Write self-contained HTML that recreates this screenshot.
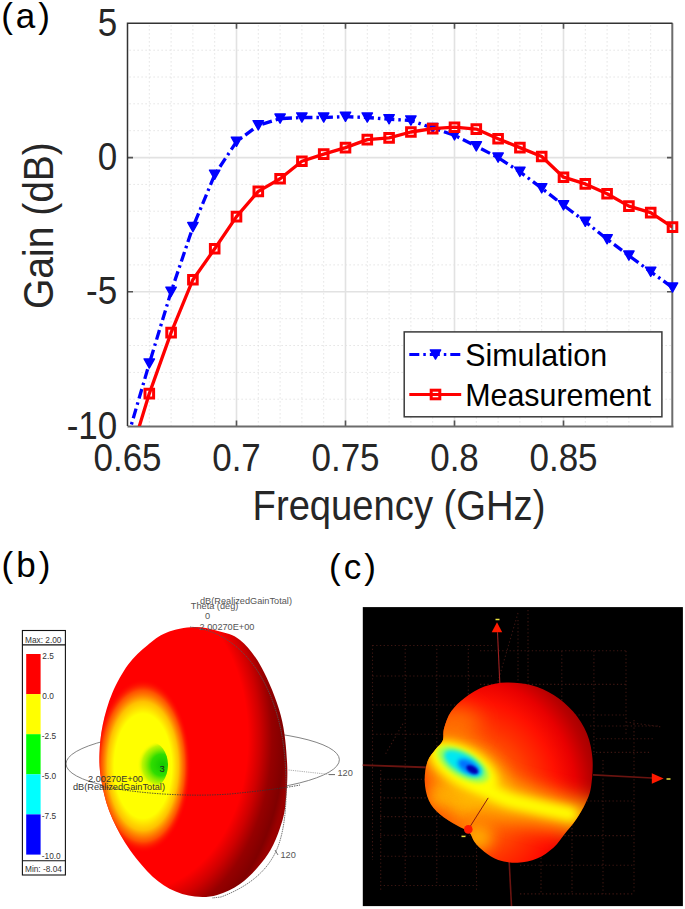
<!DOCTYPE html><html><head><meta charset="utf-8"><style>html,body{margin:0;padding:0;background:#fff;}body{width:685px;height:909px;overflow:hidden;}svg{display:block;}text{font-family:"Liberation Sans",sans-serif;}</style></head><body>
<svg width="685" height="909" viewBox="0 0 685 909">
<defs><clipPath id="ax"><rect x="127.5" y="23.3" width="545.0" height="402.8"/></clipPath>
<filter id="blur1" filterUnits="userSpaceOnUse" x="0" y="0" width="685" height="909"><feGaussianBlur stdDeviation="1.2"/></filter>
<filter id="blur2" filterUnits="userSpaceOnUse" x="0" y="0" width="685" height="909"><feGaussianBlur stdDeviation="2"/></filter>
<filter id="blur4" filterUnits="userSpaceOnUse" x="0" y="0" width="685" height="909"><feGaussianBlur stdDeviation="4"/></filter>
<filter id="blur7" filterUnits="userSpaceOnUse" x="0" y="0" width="685" height="909"><feGaussianBlur stdDeviation="7"/></filter>
<filter id="blur10" filterUnits="userSpaceOnUse" x="0" y="0" width="685" height="909"><feGaussianBlur stdDeviation="10"/></filter>
</defs>
<path d="M149.3 25.3V426.1M171.1 25.3V426.1M192.9 25.3V426.1M214.7 25.3V426.1M258.3 25.3V426.1M280.1 25.3V426.1M301.9 25.3V426.1M323.7 25.3V426.1M367.3 25.3V426.1M389.1 25.3V426.1M410.9 25.3V426.1M432.7 25.3V426.1M476.3 25.3V426.1M498.1 25.3V426.1M519.9 25.3V426.1M541.7 25.3V426.1M585.3 25.3V426.1M607.1 25.3V426.1M628.9 25.3V426.1M650.7 25.3V426.1M129.5 399.2H672.5M129.5 372.4H672.5M129.5 345.5H672.5M129.5 318.7H672.5M129.5 264.9H672.5M129.5 238.1H672.5M129.5 211.2H672.5M129.5 184.4H672.5M129.5 130.7H672.5M129.5 103.8H672.5M129.5 77.0H672.5M129.5 50.2H672.5" stroke="#dcdcdc" stroke-width="1" stroke-dasharray="1.2 2.8" fill="none"/>
<path d="M236.5 23.3V426.1M345.5 23.3V426.1M454.5 23.3V426.1M563.5 23.3V426.1M127.5 157.6H672.5M127.5 291.8H672.5" stroke="#e2e2e2" stroke-width="1.6" fill="none"/>
<path d="M236.5 23.3v5.5M236.5 426.1v-5.5M345.5 23.3v5.5M345.5 426.1v-5.5M454.5 23.3v5.5M454.5 426.1v-5.5M563.5 23.3v5.5M563.5 426.1v-5.5M127.5 157.6h5.5M672.5 157.6h-5.5M127.5 291.8h5.5M672.5 291.8h-5.5" stroke="#555" stroke-width="1.6" fill="none"/>
<path d="M127.5 426.4H673.5M672.3 23.3V427.2" stroke="#6c6c6c" stroke-width="2" fill="none"/>
<path d="M127.5 426.1V22.6M126.8 23.3H672.5" stroke="#333" stroke-width="1.5" fill="none"/>
<g clip-path="url(#ax)">
<polyline points="127.5,437.9 149.3,363.5 171.1,291.8 192.9,227.1 214.7,174.7 236.5,141.7 258.3,125.3 280.1,118.6 301.9,117.5 323.7,117.5 345.5,116.7 367.3,117.5 389.1,119.2 410.9,120.5 432.7,128.0 454.5,135.3 476.3,146.3 498.1,157.6 519.9,171.8 541.7,188.2 563.5,205.3 585.3,221.7 607.1,239.2 628.9,255.6 650.7,271.7 672.5,287.5" fill="none" stroke="#0000ff" stroke-width="3.3" stroke-dasharray="10 4 2.5 4"/>
</g>
<path d="M144.1 358.9h10.4l-5.2 9.2zM165.9 287.2h10.4l-5.2 9.2zM187.7 222.5h10.4l-5.2 9.2zM209.5 170.1h10.4l-5.2 9.2zM231.3 137.1h10.4l-5.2 9.2zM253.1 120.7h10.4l-5.2 9.2zM274.9 114.0h10.4l-5.2 9.2zM296.7 112.9h10.4l-5.2 9.2zM318.5 112.9h10.4l-5.2 9.2zM340.3 112.1h10.4l-5.2 9.2zM362.1 112.9h10.4l-5.2 9.2zM383.9 114.6h10.4l-5.2 9.2zM405.7 115.9h10.4l-5.2 9.2zM427.5 123.4h10.4l-5.2 9.2zM449.3 130.7h10.4l-5.2 9.2zM471.1 141.7h10.4l-5.2 9.2zM492.9 153.0h10.4l-5.2 9.2zM514.7 167.2h10.4l-5.2 9.2zM536.5 183.6h10.4l-5.2 9.2zM558.3 200.7h10.4l-5.2 9.2zM580.1 217.1h10.4l-5.2 9.2zM601.9 234.6h10.4l-5.2 9.2zM623.7 251.0h10.4l-5.2 9.2zM645.5 267.1h10.4l-5.2 9.2zM667.3 282.9h10.4l-5.2 9.2z" fill="#0000ff" stroke="#0000ff" stroke-width="1.4" stroke-linejoin="round"/>
<g clip-path="url(#ax)">
<polyline points="127.5,465.0 149.3,393.6 171.1,332.6 192.9,279.7 214.7,248.8 236.5,216.6 258.3,191.4 280.1,178.8 301.9,161.3 323.7,154.1 345.5,147.6 367.3,139.6 389.1,137.9 410.9,132.0 432.7,128.6 454.5,127.2 476.3,129.1 498.1,138.8 519.9,147.6 541.7,156.5 563.5,177.2 585.3,183.9 607.1,193.8 628.9,206.1 650.7,212.6 672.5,227.1" fill="none" stroke="#ff0000" stroke-width="3.3" stroke-linejoin="round"/>
</g>
<path d="M145.0 389.3h8.6v8.6h-8.6zM166.8 328.3h8.6v8.6h-8.6zM188.6 275.4h8.6v8.6h-8.6zM210.4 244.5h8.6v8.6h-8.6zM232.2 212.3h8.6v8.6h-8.6zM254.0 187.1h8.6v8.6h-8.6zM275.8 174.5h8.6v8.6h-8.6zM297.6 157.0h8.6v8.6h-8.6zM319.4 149.8h8.6v8.6h-8.6zM341.2 143.3h8.6v8.6h-8.6zM363.0 135.3h8.6v8.6h-8.6zM384.8 133.6h8.6v8.6h-8.6zM406.6 127.7h8.6v8.6h-8.6zM428.4 124.3h8.6v8.6h-8.6zM450.2 122.9h8.6v8.6h-8.6zM472.0 124.8h8.6v8.6h-8.6zM493.8 134.5h8.6v8.6h-8.6zM515.6 143.3h8.6v8.6h-8.6zM537.4 152.2h8.6v8.6h-8.6zM559.2 172.9h8.6v8.6h-8.6zM581.0 179.6h8.6v8.6h-8.6zM602.8 189.5h8.6v8.6h-8.6zM624.6 201.8h8.6v8.6h-8.6zM646.4 208.3h8.6v8.6h-8.6zM668.2 222.8h8.6v8.6h-8.6z" fill="none" stroke="#ff0000" stroke-width="3"/>
<rect x="404.2" y="331.9" width="257.7" height="84.9" fill="#fff" stroke="#3a3a3a" stroke-width="1.5"/>
<path d="M409.3 354.5H461.2" stroke="#0000ff" stroke-width="3.2" stroke-dasharray="10 4 2.5 4"/>
<path d="M430.3 349.9h10.4l-5.2 9.2z" fill="#0000ff" stroke="#0000ff" stroke-width="1.4" stroke-linejoin="round"/>
<path d="M409.3 394.5H461.2" stroke="#ff0000" stroke-width="3.2"/>
<rect x="431.2" y="390.2" width="8.6" height="8.6" fill="none" stroke="#ff0000" stroke-width="3"/>
<text transform="translate(465.20 365.60) scale(1 1.030)" font-size="30.40" fill="#000">Simulation</text>
<text transform="translate(465.20 406.10) scale(1 1.030)" font-size="30.40" fill="#000">Measurement</text>
<text transform="translate(127.50 471.00) scale(1 1.090)" font-size="35.00" fill="#262626" text-anchor="middle">0.65</text>
<text transform="translate(236.50 471.00) scale(1 1.090)" font-size="35.00" fill="#262626" text-anchor="middle">0.7</text>
<text transform="translate(345.50 471.00) scale(1 1.090)" font-size="35.00" fill="#262626" text-anchor="middle">0.75</text>
<text transform="translate(454.50 471.00) scale(1 1.090)" font-size="35.00" fill="#262626" text-anchor="middle">0.8</text>
<text transform="translate(563.50 471.00) scale(1 1.090)" font-size="35.00" fill="#262626" text-anchor="middle">0.85</text>
<text transform="translate(117.20 35.90) scale(1 1.090)" font-size="35.00" fill="#262626" text-anchor="end">5</text>
<text transform="translate(117.20 170.15) scale(1 1.090)" font-size="35.00" fill="#262626" text-anchor="end">0</text>
<text transform="translate(117.20 304.40) scale(1 1.090)" font-size="35.00" fill="#262626" text-anchor="end">-5</text>
<text transform="translate(117.20 438.65) scale(1 1.090)" font-size="35.00" fill="#262626" text-anchor="end">-10</text>
<text transform="translate(399.00 519.50) scale(1 1.100)" font-size="38.20" fill="#262626" text-anchor="middle">Frequency (GHz)</text>
<text transform="translate(52.5 225.6) rotate(-90) scale(1 1.08)" text-anchor="middle" font-size="39" fill="#262626">Gain (dB)</text>
<text transform="translate(1.20 28.00) scale(1 1.000)" font-size="35.00" fill="#000" letter-spacing="3.0">(a)</text>
<text transform="translate(1.60 577.00) scale(1 1.000)" font-size="35.00" fill="#000" letter-spacing="3.0">(b)</text>
<text transform="translate(329.00 578.50) scale(1 1.000)" font-size="35.00" fill="#000" letter-spacing="3.0">(c)</text>
<defs>
<radialGradient id="bshade" cx="140" cy="738" r="150" gradientUnits="userSpaceOnUse" gradientTransform="translate(140 738) scale(1 1.4) translate(-140 -738)">
<stop offset="0" stop-color="#ff0000"/><stop offset="0.72" stop-color="#ff0000"/><stop offset="0.8" stop-color="#d00000"/><stop offset="0.88" stop-color="#960000"/><stop offset="0.96" stop-color="#800000"/><stop offset="1" stop-color="#9a0000"/></radialGradient>
<radialGradient id="byel" cx="143" cy="766" r="60" gradientUnits="userSpaceOnUse" gradientTransform="translate(143 766) scale(0.8 1.45) translate(-143 -766)">
<stop offset="0" stop-color="#ffff00"/><stop offset="0.6" stop-color="#ffff00"/><stop offset="0.74" stop-color="#ffc000"/><stop offset="0.87" stop-color="#ff6000" stop-opacity="0.85"/><stop offset="1" stop-color="#ff0000" stop-opacity="0"/></radialGradient>
<clipPath id="gclip"><ellipse cx="151" cy="765" rx="17" ry="23"/></clipPath><radialGradient id="bgrn" cx="160" cy="765" fx="163" fy="765" r="24" gradientUnits="userSpaceOnUse" gradientTransform="translate(160 765) scale(0.95 1.0) translate(-160 -765)">
<stop offset="0" stop-color="#10c800"/><stop offset="0.45" stop-color="#30dd00"/><stop offset="0.8" stop-color="#a0f000" stop-opacity="0.7"/><stop offset="1" stop-color="#ffff00" stop-opacity="0"/></radialGradient>
<clipPath id="bclip"><path d="M194.0 627.0C202.6 626.7 210.3 628.8 218.0 631.0C225.7 633.2 232.7 633.9 240.0 640.0C247.3 646.1 254.9 655.1 261.7 667.7C268.5 680.3 276.6 699.5 280.8 715.4C285.0 731.3 286.3 748.2 287.1 763.0C287.9 777.8 286.7 793.6 285.5 804.4C284.3 815.2 282.5 820.4 280.0 828.0C277.5 835.6 274.2 843.5 270.5 850.0C266.8 856.5 263.1 861.3 258.0 867.0C252.9 872.7 246.8 879.3 240.0 884.0C233.2 888.7 224.7 892.9 217.2 895.0C209.7 897.1 202.8 897.6 194.9 896.6C187.0 895.6 177.4 892.9 169.5 888.7C161.6 884.5 154.6 878.9 147.2 871.2C139.8 863.5 131.3 852.7 125.0 842.6C118.7 832.5 113.1 821.4 109.1 810.8C105.1 800.2 102.7 788.5 101.1 779.0C99.5 769.5 99.2 762.5 99.5 753.5C99.8 744.5 100.6 735.1 102.7 725.0C104.8 714.9 108.0 703.2 112.3 693.1C116.5 683.0 122.4 672.5 128.2 664.5C134.0 656.5 140.8 650.7 147.2 645.4C153.5 640.1 158.5 635.8 166.3 632.7C174.1 629.6 185.4 627.3 194.0 627.0Z"/></clipPath>
</defs>
<ellipse cx="202.7" cy="761.8" rx="136.7" ry="32" transform="rotate(-0.9 202.7 761.8)" fill="none" stroke="#777" stroke-width="0.9"/>
<path d="M194.0 627.0C202.6 626.7 210.3 628.8 218.0 631.0C225.7 633.2 232.7 633.9 240.0 640.0C247.3 646.1 254.9 655.1 261.7 667.7C268.5 680.3 276.6 699.5 280.8 715.4C285.0 731.3 286.3 748.2 287.1 763.0C287.9 777.8 286.7 793.6 285.5 804.4C284.3 815.2 282.5 820.4 280.0 828.0C277.5 835.6 274.2 843.5 270.5 850.0C266.8 856.5 263.1 861.3 258.0 867.0C252.9 872.7 246.8 879.3 240.0 884.0C233.2 888.7 224.7 892.9 217.2 895.0C209.7 897.1 202.8 897.6 194.9 896.6C187.0 895.6 177.4 892.9 169.5 888.7C161.6 884.5 154.6 878.9 147.2 871.2C139.8 863.5 131.3 852.7 125.0 842.6C118.7 832.5 113.1 821.4 109.1 810.8C105.1 800.2 102.7 788.5 101.1 779.0C99.5 769.5 99.2 762.5 99.5 753.5C99.8 744.5 100.6 735.1 102.7 725.0C104.8 714.9 108.0 703.2 112.3 693.1C116.5 683.0 122.4 672.5 128.2 664.5C134.0 656.5 140.8 650.7 147.2 645.4C153.5 640.1 158.5 635.8 166.3 632.7C174.1 629.6 185.4 627.3 194.0 627.0Z" fill="url(#bshade)"/>
<g clip-path="url(#bclip)"><ellipse cx="143" cy="766" rx="48" ry="87" fill="url(#byel)"/><g clip-path="url(#gclip)"><ellipse cx="156" cy="765" rx="22" ry="26" fill="url(#bgrn)"/></g></g>
<path d="M100 786 C140 794 190 797 230 794 C260 791 285 788 300 785" fill="none" stroke="#333" stroke-width="0.8" stroke-dasharray="1.5 1"/>
<path d="M190 627 C245 632 280 690 285 760 C288 800 285 830 277 849 C268 870 250 886 221 897 L212 898" fill="none" stroke="#555" stroke-width="0.8" stroke-dasharray="1.5 0.8"/>
<text transform="translate(200.00 604.00) scale(1 1.050)" font-size="9.20" fill="#555">dB(RealizedGainTotal)</text>
<text transform="translate(190.80 608.50) scale(1 1.050)" font-size="9.20" fill="#555">Theta (deg)</text>
<text transform="translate(205.00 618.50) scale(1 1.050)" font-size="9.20" fill="#555">0</text>
<text transform="translate(199.50 629.50) scale(1 1.050)" font-size="9.20" fill="#555">2.00270E+00</text>
<text transform="translate(337.50 776.00) scale(1 1.050)" font-size="9.20" fill="#555">120</text>
<path d="M288.5 770 L330 774.5" stroke="#999" stroke-width="0.8" stroke-dasharray="1.2 1"/><path d="M329 774.6h6" stroke="#555" stroke-width="0.9"/><path d="M275 850 l3 5" stroke="#555" stroke-width="0.8"/>
<text transform="translate(280.50 858.30) scale(1 1.050)" font-size="9.20" fill="#555">120</text>
<text transform="translate(73.00 790.00) scale(1 1.050)" font-size="9.20" fill="#333">dB(RealizedGainTotal)</text>
<text transform="translate(88.00 782.00) scale(1 1.050)" font-size="9.20" fill="#333">2.00270E+00</text>
<text transform="translate(159.50 771.50) scale(1 1.050)" font-size="9.50" fill="#222">3</text>
<rect x="22.4" y="630.5" width="43" height="244.5" fill="#fff" stroke="#111" stroke-width="1.1"/>
<path d="M22.4 644.9H65.4M22.4 860.8H65.4" stroke="#111" stroke-width="1.1"/>
<rect x="26.2" y="654.0" width="14.4" height="40.2" fill="#ff0000"/>
<rect x="26.2" y="694.1" width="14.4" height="40.2" fill="#ffff00"/>
<rect x="26.2" y="734.2" width="14.4" height="40.2" fill="#00ff00"/>
<rect x="26.2" y="774.3" width="14.4" height="40.2" fill="#00ffff"/>
<rect x="26.2" y="814.4" width="14.4" height="40.2" fill="#0000ff"/>
<text transform="translate(25.00 642.80) scale(1 1.000)" font-size="8.30" fill="#333">Max: 2.00</text>
<text transform="translate(25.00 872.30) scale(1 1.000)" font-size="8.30" fill="#333">Min: -8.04</text>
<text transform="translate(42.30 658.50) scale(1 1.000)" font-size="8.30" fill="#333">2.5</text>
<text transform="translate(42.30 698.60) scale(1 1.000)" font-size="8.30" fill="#333">0.0</text>
<text transform="translate(41.80 738.70) scale(1 1.000)" font-size="8.30" fill="#333">-2.5</text>
<text transform="translate(41.80 778.80) scale(1 1.000)" font-size="8.30" fill="#333">-5.0</text>
<text transform="translate(41.80 818.90) scale(1 1.000)" font-size="8.30" fill="#333">-7.5</text>
<text transform="translate(41.80 859.00) scale(1 1.000)" font-size="8.30" fill="#333">-10.0</text>
<rect x="362.8" y="607.1" width="320.1" height="299" fill="#000"/>
<defs>
<radialGradient id="cshade" cx="472" cy="795" r="130" gradientUnits="userSpaceOnUse" gradientTransform="translate(472 795) scale(1 1.1) translate(-472 -795)">
<stop offset="0" stop-color="#ffa000"/><stop offset="0.3" stop-color="#ff6000"/><stop offset="0.5" stop-color="#ff3000"/><stop offset="0.66" stop-color="#ff1000"/><stop offset="0.8" stop-color="#e80000"/><stop offset="0.92" stop-color="#b80000"/><stop offset="1" stop-color="#a00000"/></radialGradient>
<radialGradient id="cblue" cx="472" cy="768" r="30" gradientUnits="userSpaceOnUse" gradientTransform="translate(472 768) rotate(28) scale(1.25 0.5) translate(-472 -768)">
<stop offset="0" stop-color="#0000c0"/><stop offset="0.2" stop-color="#0050ff"/><stop offset="0.45" stop-color="#00c8f0"/><stop offset="0.7" stop-color="#40f0a0"/><stop offset="0.88" stop-color="#c0ff40" stop-opacity="0.7"/><stop offset="1" stop-color="#ffff00" stop-opacity="0"/></radialGradient>
<clipPath id="cclip"><path d="M506.5 682.5C514.4 682.3 523.6 683.2 531.5 685.3C539.4 687.4 546.8 690.6 553.7 695.0C560.6 699.4 567.6 705.1 573.1 711.6C578.6 718.1 583.8 725.9 587.0 733.8C590.2 741.7 591.8 750.0 592.5 758.8C593.2 767.6 592.2 779.1 591.1 786.5C590.0 793.9 588.1 797.6 585.6 803.1C583.1 808.6 579.4 814.7 575.9 819.8C572.4 824.9 568.5 829.1 564.8 833.7C561.1 838.3 558.3 843.4 553.7 847.5C549.1 851.6 543.0 856.1 537.0 858.6C531.0 861.1 524.1 862.6 517.6 862.8C511.1 863.0 503.8 861.9 498.2 860.0C492.6 858.1 488.2 854.7 484.3 851.7C480.4 848.7 477.1 845.2 474.6 842.0C472.1 838.8 472.1 835.1 469.1 832.3C466.1 829.5 461.5 828.3 456.6 825.3C451.8 822.3 444.6 818.4 440.0 814.2C435.4 810.1 431.4 805.9 428.9 800.4C426.3 794.9 424.9 787.5 424.7 781.0C424.5 774.5 425.6 766.8 427.5 761.5C429.4 756.2 433.3 752.5 435.8 749.0C438.3 745.5 441.3 744.2 442.7 740.7C444.1 737.2 442.7 733.1 444.1 728.3C445.5 723.4 447.6 716.7 451.1 711.6C454.6 706.5 459.4 701.9 464.9 697.7C470.4 693.5 477.4 689.1 484.3 686.6C491.2 684.1 498.6 682.7 506.5 682.5Z"/></clipPath>
</defs>
<path d="M372.5 645.5H492.0M372.5 676.0H492.0M372.5 705.0H470.0M372.5 734.3H445.0M372.5 645.0V860.0M405.2 645.0V885.0M436.8 645.0V885.0M468.3 645.0V700.0M480.0 650.8H626.0M480.0 684.4H626.0M560.0 715.0H626.0M528.0 610.0V683.0M518.0 620.0V683.0M561.8 651.0V730.0M593.9 651.0V755.0M626.0 651.0V735.0M590.0 726.0H660.0M596.0 738.7H655.0M596.0 752.4H650.0M520.0 801.0H634.0M520.0 835.6H634.0M520.0 865.3H634.0M520.0 893.9H634.0M541.0 780.0V894.0M572.0 780.0V894.0M603.0 760.0V894.0M634.0 720.0V894.0M380.0 779.2H480.0M380.0 797.9H480.0M380.0 816.6H480.0M380.0 835.3H480.0M380.0 856.3H480.0M380.0 885.5H480.0M380.7 770.0V890.0M476.5 770.0V890.0M402.9 723.8L385.4 754.2M518 613L497.5 683M626 722L662 727" stroke="#3c1612" stroke-width="1.1" stroke-dasharray="1.3 2.4" fill="none"/>
<path d="M362.8 765.2 L430 767.5" stroke="#6a1410" stroke-width="1.8" fill="none"/>
<path d="M593 774.9 L652 778" stroke="#6a1410" stroke-width="1.6" fill="none"/>
<path d="M497.5 632.2 L499.8 683" stroke="#a02020" stroke-width="1.1" fill="none"/>
<path d="M509.2 862 L511.5 906" stroke="#6a1410" stroke-width="1.6" fill="none"/>
<path d="M491.7 632.2 L497 622.2 L502.2 632.2Z" fill="#ff1a00"/>
<path d="M651.8 773.2 L663.7 778.4 L651.8 783.7Z" fill="#ff1a00"/>
<path d="M495.5 619.5h4" stroke="#e8e040" stroke-width="1.5"/>
<path d="M666.5 779h4" stroke="#e8e040" stroke-width="1.5"/>
<path d="M506.5 682.5C514.4 682.3 523.6 683.2 531.5 685.3C539.4 687.4 546.8 690.6 553.7 695.0C560.6 699.4 567.6 705.1 573.1 711.6C578.6 718.1 583.8 725.9 587.0 733.8C590.2 741.7 591.8 750.0 592.5 758.8C593.2 767.6 592.2 779.1 591.1 786.5C590.0 793.9 588.1 797.6 585.6 803.1C583.1 808.6 579.4 814.7 575.9 819.8C572.4 824.9 568.5 829.1 564.8 833.7C561.1 838.3 558.3 843.4 553.7 847.5C549.1 851.6 543.0 856.1 537.0 858.6C531.0 861.1 524.1 862.6 517.6 862.8C511.1 863.0 503.8 861.9 498.2 860.0C492.6 858.1 488.2 854.7 484.3 851.7C480.4 848.7 477.1 845.2 474.6 842.0C472.1 838.8 472.1 835.1 469.1 832.3C466.1 829.5 461.5 828.3 456.6 825.3C451.8 822.3 444.6 818.4 440.0 814.2C435.4 810.1 431.4 805.9 428.9 800.4C426.3 794.9 424.9 787.5 424.7 781.0C424.5 774.5 425.6 766.8 427.5 761.5C429.4 756.2 433.3 752.5 435.8 749.0C438.3 745.5 441.3 744.2 442.7 740.7C444.1 737.2 442.7 733.1 444.1 728.3C445.5 723.4 447.6 716.7 451.1 711.6C454.6 706.5 459.4 701.9 464.9 697.7C470.4 693.5 477.4 689.1 484.3 686.6C491.2 684.1 498.6 682.7 506.5 682.5Z" fill="url(#cshade)"/>
<g clip-path="url(#cclip)">
<ellipse cx="478" cy="838" rx="14" ry="12" fill="#ffc000" filter="url(#blur7)" opacity="0.8"/>
<ellipse cx="455" cy="725" rx="26" ry="18" fill="#ff7000" filter="url(#blur10)" opacity="1"/>
<ellipse cx="453" cy="798" rx="24" ry="18" fill="#ffb800" filter="url(#blur7)" opacity="0.85"/>
<ellipse cx="436" cy="818" rx="20" ry="12" fill="#ff5000" filter="url(#blur7)" opacity="0.6"/>
<ellipse cx="463" cy="770" rx="48" ry="28" transform="rotate(30 468 768)" fill="#ffa000" filter="url(#blur7)" opacity="0.8"/>
<path d="M470 775 C482 788 495 796 512 801 C535 807 560 813 590 820" stroke="#ffd000" stroke-width="34" fill="none" stroke-linecap="round" filter="url(#blur10)" opacity="0.85"/>
<path d="M470 775 C482 788 495 796 512 801 C532 806 550 810 570 814" stroke="#ffff00" stroke-width="14" fill="none" stroke-linecap="round" filter="url(#blur4)"/>
<g transform="rotate(30 468 768)">
<ellipse cx="463" cy="769" rx="38" ry="19" fill="#ffff00" filter="url(#blur4)"/>
<ellipse cx="462" cy="767.5" rx="29" ry="13" fill="#a0ff50" filter="url(#blur2)"/>
<ellipse cx="462" cy="766.5" rx="22" ry="9.5" fill="#00e8f0" filter="url(#blur2)"/>
<ellipse cx="468" cy="766.8" rx="12" ry="6" fill="#0070ff" filter="url(#blur2)"/>
<ellipse cx="472.5" cy="767.2" rx="6.5" ry="3.5" fill="#0000b0" filter="url(#blur1)"/>
</g>
</g>
<path d="M488.2 797.9 L468.3 829.4" stroke="#8b1a10" stroke-width="1" fill="none"/>
<circle cx="468.3" cy="829.4" r="4.3" fill="#ff1a00"/>
<path d="M461.5 836.4h4" stroke="#e8e040" stroke-width="1.5"/>
</svg></body></html>
